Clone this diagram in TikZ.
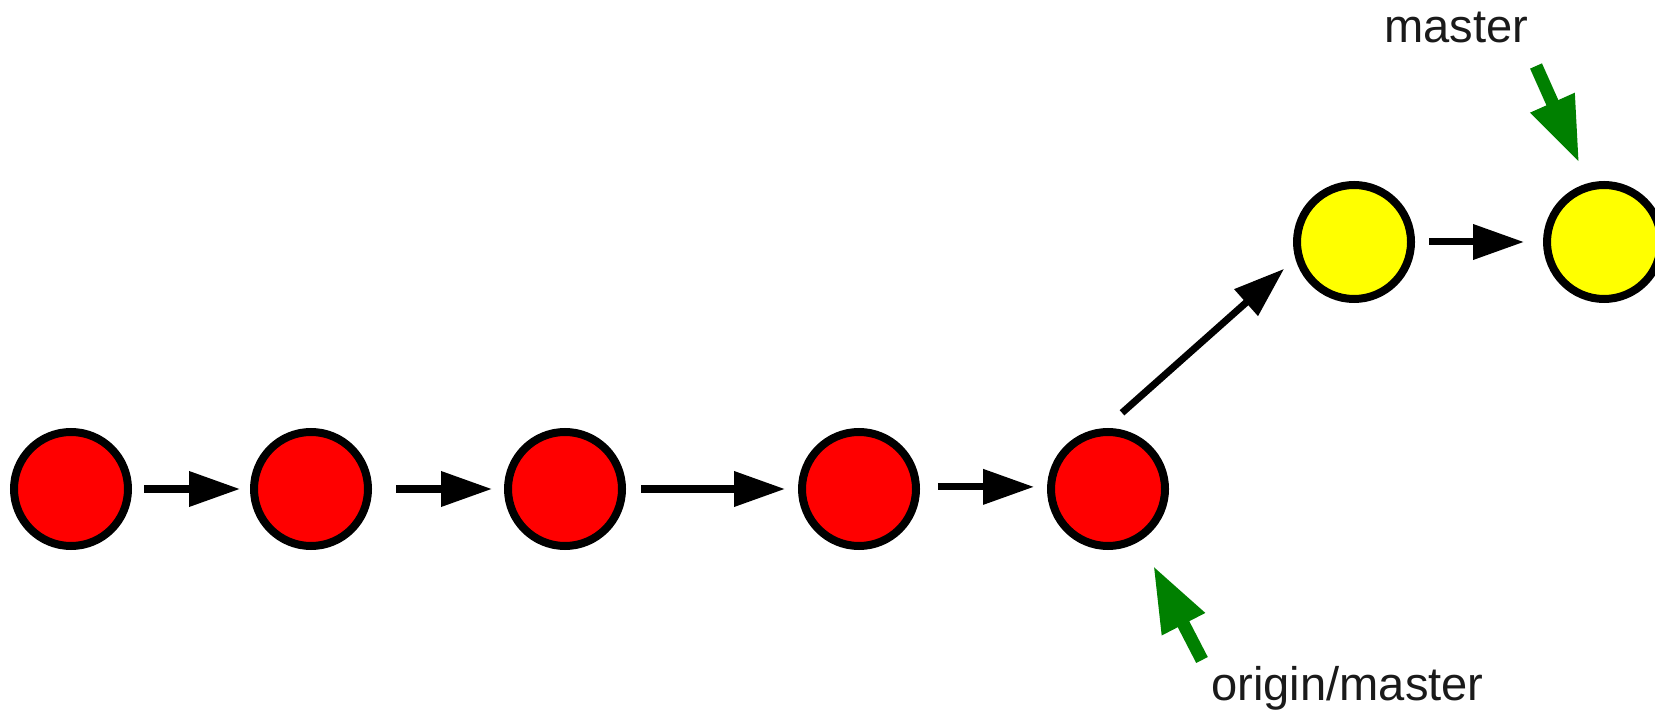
\documentclass[tikz,border=0pt]{standalone}
\usepackage{fontspec}
\setmainfont{Liberation Sans}
\usetikzlibrary{arrows.meta}
\definecolor{GitRed}{HTML}{FF0000}
\definecolor{GitYellow}{HTML}{FFFF00}
\definecolor{GitGreen}{HTML}{008000}
\definecolor{GitText}{HTML}{1A1A1A}

\begin{document}
\begin{tikzpicture}[x=1cm,y=1cm,
  commit/.style={circle,draw=black,line width=0.08cm,minimum size=1.14cm,inner sep=0pt},
  parent/.style={line width=0.07cm,-{Triangle[length=0.51cm,width=0.34cm]},shorten <=0.15cm,shorten >=0.13cm},
  pointer/.style={GitGreen,line width=0.13cm,-{Triangle[length=0.66cm,width=0.45cm]}},
  reflabel/.style={text=GitText,font=\fontsize{13.4}{16}\selectfont,inner sep=0pt}]
\path[use as bounding box] (0,0) rectangle (16.55,7.13);
\node[commit,fill=GitRed] (c1) at (0.71,2.24) {};
\node[commit,fill=GitRed] (c2) at (3.11,2.24) {};
\node[commit,fill=GitRed] (c3) at (5.65,2.24) {};
\node[commit,fill=GitRed] (c4) at (8.59,2.24) {};
\node[commit,fill=GitRed] (c5) at (11.08,2.24) {};
\node[commit,fill=GitYellow] (y1) at (13.54,4.71) {};
\node[commit,fill=GitYellow] (y2) at (16.04,4.71) {};
\draw[parent,shorten <=0.12cm,shorten >=0.10cm] (c1) -- (c2);
\draw[parent,shorten <=0.24cm,shorten >=0.12cm] (c2) -- (c3);
\draw[parent] (c3) -- (c4);
\draw[parent,shorten <=0.18cm] (c4.2) -- (c5.178);
\draw[parent,shorten <=0.23cm,shorten >=0.15cm] (c5.93) -- (y1.196);
\draw[parent,shorten <=0.14cm,shorten >=0.19cm] (y1) -- (y2);
\node[reflabel,anchor=base] (master) at (14.565,6.70) {master};
\node[reflabel,anchor=base] (origin) at (13.475,0.13) {origin/master};
\coordinate (mastertail) at (15.36,6.47);
\coordinate (origintail) at (12.02,0.53);
\draw[pointer,shorten >=0.22cm] (mastertail) -- (y2.105);
\draw[pointer,shorten >=0.28cm] (origintail) -- (c5.-58);
\end{tikzpicture}
\end{document}
